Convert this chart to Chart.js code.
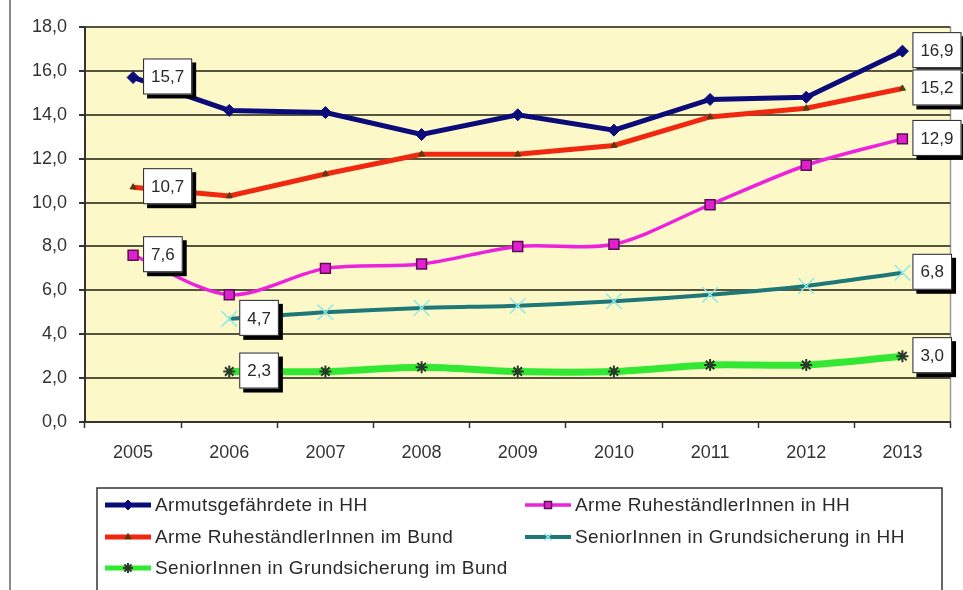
<!DOCTYPE html>
<html><head><meta charset="utf-8">
<script src="https://cdn.jsdelivr.net/npm/chart.js@4/dist/chart.umd.min.js"></script>
<style>html,body{margin:0;padding:0;background:#fff;}#wrap{position:relative;width:963px;height:590px;}</style>
</head><body><div id="wrap"><canvas id="c" width="963" height="590"></canvas></div>
<script>
const years = ['2005','2006','2007','2008','2009','2010','2011','2012','2013'];
const armutHH   = [15.7, 14.2, 14.1, 13.1, 14.0, 13.3, 14.7, 14.8, 16.9];
const ruhestHH  = [7.6, 5.8, 7.0, 7.2, 8.0, 8.1, 9.9, 11.7, 12.9];
const ruhestBund= [10.7, 10.3, 11.3, 12.2, 12.2, 12.6, 13.9, 14.3, 15.2];
const grundHH   = [null, 4.7, 5.0, 5.2, 5.3, 5.5, 5.8, 6.2, 6.8];
const grundBund = [null, 2.3, 2.3, 2.5, 2.3, 2.3, 2.6, 2.6, 3.0];
const seriesNames = ['Armutsgefährdete in HH','Arme RuheständlerInnen in HH','Arme RuheständlerInnen im Bund','SeniorInnen in Grundsicherung in HH','SeniorInnen in Grundsicherung im Bund'];
const yTicks = [0,2,4,6,8,10,12,14,16,18];

const FONT = "'Liberation Sans', Arial, sans-serif";
Chart.defaults.font.family = FONT;
const fmt = v => v.toFixed(1).replace('.', ',');

const bgPlugin = {
  id: 'bg',
  beforeDraw(chart) {
    const ctx = chart.ctx, a = chart.chartArea;
    ctx.save();
    ctx.fillStyle = '#ffffff';
    ctx.fillRect(0, 0, chart.width, chart.height);
    ctx.fillStyle = '#FCF8C8';
    ctx.fillRect(a.left, a.top, a.right - a.left, a.bottom - a.top);
    ctx.strokeStyle = '#8a8a8a';
    ctx.lineWidth = 2;
    ctx.beginPath(); ctx.moveTo(10, 0); ctx.lineTo(10, chart.height); ctx.stroke();
    ctx.strokeStyle = '#9a9a9a';
    ctx.lineWidth = 1.5;
    ctx.beginPath(); ctx.moveTo(a.right, a.top); ctx.lineTo(a.right, a.bottom); ctx.stroke();
    ctx.restore();
  }
};

const labelPlugin = {
  id: 'boxLabels',
  afterDatasetsDraw(chart) {
    const ctx = chart.ctx;
    ctx.save();
    ctx.font = '17px ' + FONT;
    ctx.textBaseline = 'middle';
    ctx.textAlign = 'left';
    chart.data.datasets.forEach((ds, i) => {
      const meta = chart.getDatasetMeta(i);
      let first = ds.data.findIndex(v => v !== null);
      let last = ds.data.length - 1;
      [first, last].forEach(idx => {
        const pt = meta.data[idx];
        const txt = fmt(ds.data[idx]);
        const w = ctx.measureText(txt).width + 16;
        const h = 36;
        const x = pt.x + 10, y = pt.y - h / 2 - 1;
        ctx.fillStyle = '#000';
        ctx.fillRect(x + 4, y + 4, w, h);
        ctx.fillStyle = '#fff';
        ctx.fillRect(x, y, w, h);
        ctx.strokeStyle = '#222';
        ctx.lineWidth = 1;
        ctx.strokeRect(x + 0.5, y + 0.5, w - 1, h - 1);
        ctx.fillStyle = '#2a2a2a';
        ctx.fillText(txt, x + 8, y + h / 2 + 1);
      });
    });
    ctx.restore();
  }
};

const legendPlugin = {
  id: 'customLegend',
  afterDraw(chart) {
    const ctx = chart.ctx;
    ctx.save();
    ctx.strokeStyle = '#333';
    ctx.lineWidth = 1.5;
    ctx.strokeRect(97, 488, 845, 120);
    const pos = [[105, 505], [525, 505], [105, 537], [525, 537], [105, 568]];
    ctx.font = '19px ' + FONT;
    try { ctx.letterSpacing = '0.4px'; } catch (e) {}
    ctx.textBaseline = 'middle';
    chart.data.datasets.forEach((ds, i) => {
      const [x0, y0] = pos[i];
      ctx.strokeStyle = ds.borderColor;
      ctx.lineWidth = Math.min(ds.borderWidth, 5);
      ctx.beginPath(); ctx.moveTo(x0, y0); ctx.lineTo(x0 + 46, y0); ctx.stroke();
      ctx.fillStyle = ds.pointBackgroundColor;
      ctx.strokeStyle = ds.pointBorderColor;
      ctx.lineWidth = ds.pointBorderWidth;
      Chart.helpers.drawPoint(ctx, {pointStyle: ds.pointStyle, radius: Math.min(ds.pointRadius, 5), rotation: 0, borderWidth: ds.pointBorderWidth}, x0 + 23, y0);
      ctx.fillStyle = '#2a2a2a';
      ctx.fillText(ds.label, x0 + 50, y0 + 1);
    });
    ctx.restore();
  }
};

new Chart(document.getElementById('c'), {
  type: 'line',
  data: {
    labels: years,
    datasets: [
      {label: seriesNames[0], data: armutHH, borderColor: '#0B0B7A', borderWidth: 5, tension: 0,
       pointStyle: 'rectRot', pointRadius: 6, pointBackgroundColor: '#0B0B7A', pointBorderColor: '#0B0B7A', pointBorderWidth: 1, order: 1},
      {label: seriesNames[1], data: ruhestHH, borderColor: '#EE22DD', borderWidth: 3.5, tension: 0.3,
       pointStyle: 'rect', pointRadius: 7, pointBackgroundColor: '#E020D0', pointBorderColor: '#5a1050', pointBorderWidth: 1.5, order: 3},
      {label: seriesNames[2], data: ruhestBund, borderColor: '#F02810', borderWidth: 5, tension: 0,
       pointStyle: 'triangle', pointRadius: 3.5, pointBackgroundColor: '#5a3a10', pointBorderColor: '#5a3a10', pointBorderWidth: 1, order: 2},
      {label: seriesNames[3], data: grundHH, borderColor: '#1F7878', borderWidth: 4, tension: 0.3,
       pointStyle: 'crossRot', pointRadius: 11, pointBackgroundColor: '#8FE8E8', pointBorderColor: '#8FE8E8', pointBorderWidth: 1.5, order: 4},
      {label: seriesNames[4], data: grundBund, borderColor: '#33E833', borderWidth: 7, tension: 0.3,
       pointStyle: 'star', pointRadius: 6, pointBackgroundColor: '#2a3a2a', pointBorderColor: '#2a3a2a', pointBorderWidth: 2, order: 5}
    ]
  },
  options: {
    responsive: false,
    animation: false,
    devicePixelRatio: 1,
    layout: {padding: {left: 0, top: 27, right: 10, bottom: 0}},
    plugins: {legend: {display: false}, tooltip: {enabled: false}},
    scales: {
      x: {
        offset: true,
        grid: {display: true, drawOnChartArea: false, offset: true, tickLength: 6, tickColor: '#333', tickWidth: 1.5},
        border: {display: true, color: '#333', width: 2},
        ticks: {font: {size: 18}, color: '#333', padding: 14, maxRotation: 0},
        afterFit(s) { s.height = 168; }
      },
      y: {
        min: 0, max: 18,
        afterBuildTicks(s) { s.ticks = yTicks.map(v => ({value: v})); },
        grid: {color: '#56563f', lineWidth: 2, tickLength: 6, tickColor: '#333'},
        border: {display: true, color: '#333', width: 2},
        ticks: {font: {size: 18}, color: '#333', padding: 12, callback: v => fmt(v)},
        afterFit(s) { s.width = 85; }
      }
    }
  },
  plugins: [bgPlugin, labelPlugin, legendPlugin]
});
</script></body></html>
